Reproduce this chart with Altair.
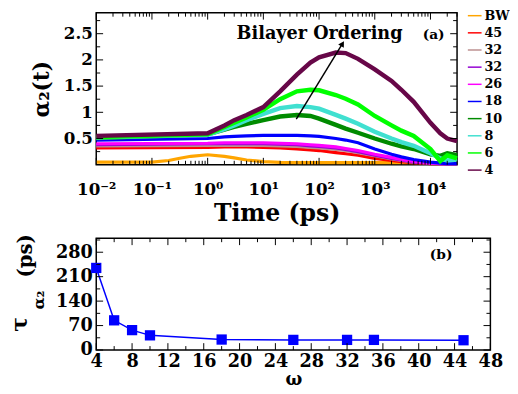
import altair as alt
import pandas as pd

FONT = "DejaVu Serif"

# ---------------- panel (a) data ----------------
series_order = ["BW", "45", "35", "32", "26", "18", "10", "8", "6", "4"]
series_colors = ["#FFA500", "#FF0000", "#BC8F8F", "#9400D3", "#FF00FF",
                 "#0000FF", "#008B00", "#40E0D0", "#00FF00", "#670748"]
thick_series = ["10", "8", "6", "4"]

T = [0.01, 1, 2, 3, 5, 10, 20, 40, 70, 100, 200, 300, 500, 1000, 2000, 3000,
     5000, 10000, 15000, 20000, 30000]
s45 = [0.32, 0.33, 0.34, 0.34, 0.34, 0.33, 0.32, 0.30, 0.28, 0.27, 0.23, 0.21,
       0.18, 0.12, 0.08, 0.06, 0.04, 0.02, 0.02, 0.02, 0.02]
s35 = [0.36, 0.37, 0.37, 0.37, 0.37, 0.37, 0.36, 0.35, 0.33, 0.32, 0.29, 0.27,
       0.23, 0.17, 0.11, 0.08, 0.05, 0.03, 0.02, 0.02, 0.02]
s32 = [0.38, 0.40, 0.40, 0.40, 0.40, 0.40, 0.39, 0.38, 0.36, 0.35, 0.32, 0.29,
       0.25, 0.18, 0.12, 0.09, 0.05, 0.03, 0.02, 0.02, 0.02]
s26 = [0.40, 0.41, 0.42, 0.42, 0.42, 0.42, 0.41, 0.40, 0.38, 0.37, 0.34, 0.31,
       0.27, 0.20, 0.14, 0.10, 0.06, 0.03, 0.02, 0.02, 0.02]
s18 = [0.47, 0.50, 0.53, 0.54, 0.55, 0.56, 0.56, 0.56, 0.55, 0.54, 0.50, 0.47,
       0.42, 0.30, 0.20, 0.15, 0.10, 0.05, 0.03, 0.02, 0.02]
s10 = [0.51, 0.58, 0.67, 0.72, 0.78, 0.85, 0.92, 0.95, 0.93, 0.88, 0.76, 0.69,
       0.61, 0.50, 0.40, 0.35, 0.30, 0.20, 0.17, 0.22, 0.18]
s8 = [0.52, 0.57, 0.68, 0.75, 0.85, 0.97, 1.08, 1.12, 1.10, 1.07, 0.95, 0.88,
      0.78, 0.63, 0.50, 0.43, 0.36, 0.22, 0.12, 0.08, 0.10]
s6 = [0.53, 0.58, 0.72, 0.80, 0.90, 1.05, 1.25, 1.40, 1.43, 1.42, 1.33, 1.26,
      1.15, 0.93, 0.75, 0.65, 0.55, 0.30, 0.07, 0.18, 0.12]
s4 = [0.55, 0.60, 0.75, 0.85, 0.95, 1.10, 1.40, 1.72, 1.95, 2.05, 2.14, 2.13,
      2.02, 1.82, 1.60, 1.43, 1.20, 0.80, 0.60, 0.50, 0.45]
bw_t = [0.01, 0.1, 0.2, 0.3, 0.5, 1, 2, 3, 5, 10, 20, 50, 100, 1000, 10000, 30000]
bw_v = [0.05, 0.05, 0.08, 0.12, 0.16, 0.19, 0.16, 0.13, 0.09, 0.06, 0.045, 0.04,
        0.04, 0.04, 0.04, 0.04]

# ---------------- panel (b) data ----------------
omega = [4, 6, 8, 10, 18, 26, 32, 35, 45]
tau = [235, 85, 57, 42, 30, 29, 29, 29, 28]

# axis tick values / labels
xa_major = [0.01, 0.1, 1, 10, 100, 1000, 10000]
xa_labels = ["10⁻²", "10⁻¹", "10⁰", "10¹", "10²", "10³", "10⁴"]
xa_minor = [k * 10.0 ** d for d in range(-2, 5) for k in range(2, 10) if k * 10.0 ** d <= 30000]
ya_major = [0.5, 1.0, 1.5, 2.0, 2.5]
ya_minor = [0.25, 0.75, 1.25, 1.75, 2.25, 2.75]
xb_major = [4, 8, 12, 16, 20, 24, 28, 32, 36, 40, 44, 48]
xb_minor = [6, 10, 14, 18, 22, 26, 30, 34, 38, 42, 46]
yb_major = [0, 70, 140, 210, 280]
yb_minor = [35, 105, 175, 245, 315]

rows = []
rows += [{"s": "BW", "t": t, "v": v} for t, v in zip(bw_t, bw_v)]
for name, vals in [("45", s45), ("35", s35), ("32", s32), ("26", s26), ("18", s18),
                   ("10", s10), ("8", s8), ("6", s6), ("4", s4)]:
    rows += [{"s": name, "t": t, "v": v} for t, v in zip(T, vals)]
df_a = pd.DataFrame(rows)
df_thin = df_a[~df_a["s"].isin(thick_series)]
df_thick = df_a[df_a["s"].isin(thick_series)]
df_b = pd.DataFrame({"w": omega, "tau": tau})

W1, H1 = 368, 155
W2, H2 = 402, 114

xs_a = alt.Scale(type="log", domain=[0.01, 30000])
ys_a = alt.Scale(domain=[0, 2.9])
xs_b = alt.Scale(domain=[4, 48])
ys_b = alt.Scale(domain=[0, 320])

label_expr = " : ".join(
    f"abs(datum.value - {v}) < {v}*0.01 ? '{lab}'" for v, lab in zip(xa_major, xa_labels)
) + " : ''"

ax_a_x = alt.Axis(title="Time (ps)", values=xa_major, labelExpr=label_expr,
                  labelFontSize=17, labelPadding=17, titleFontSize=24,
                  titlePadding=5, labelOverlap=False, labelFlush=False)
ax_a_y = alt.Axis(title="α₂(t)", values=ya_major, format="~g", labelOverlap=False,
                  labelFontSize=17, labelPadding=4, titleFontSize=22, titlePadding=10)
ax_b_x = alt.Axis(title="ω", values=xb_major, format="d", labelFontSize=18,
                  labelPadding=3, titleFontSize=18, titlePadding=0, labelOverlap=False,
                  labelFlush=False)
ax_b_y = alt.Axis(title=None, values=yb_major, format="d", labelFontSize=18,
                  labelPadding=4, labelOverlap=False)


def tick_layers(xf, yf, xvals_major, xvals_minor, yvals_major, yvals_minor,
                xs, ys, axx, axy, W, H):
    out = []
    for vals, L in [(xvals_major, 7), (xvals_minor, 4)]:
        d = pd.DataFrame({xf: vals})
        out.append(alt.Chart(d).mark_rule(color="black", strokeWidth=1).encode(
            x=alt.X(f"{xf}:Q", scale=xs, axis=axx), y=alt.value(H), y2=alt.value(H - L)))
        out.append(alt.Chart(d).mark_rule(color="black", strokeWidth=1).encode(
            x=alt.X(f"{xf}:Q", scale=xs, axis=axx), y=alt.value(0), y2=alt.value(L)))
    for vals, L in [(yvals_major, 7), (yvals_minor, 4)]:
        d = pd.DataFrame({yf: vals})
        out.append(alt.Chart(d).mark_rule(color="black", strokeWidth=1).encode(
            y=alt.Y(f"{yf}:Q", scale=ys, axis=axy), x=alt.value(0), x2=alt.value(L)))
        out.append(alt.Chart(d).mark_rule(color="black", strokeWidth=1).encode(
            y=alt.Y(f"{yf}:Q", scale=ys, axis=axy), x=alt.value(W), x2=alt.value(W - L)))
    return out


color_enc = alt.Color("s:N", scale=alt.Scale(domain=series_order, range=series_colors),
                      legend=alt.Legend(orient="none", legendX=378, legendY=-5, title=None,
                                        symbolType="stroke", symbolSize=196,
                                        symbolStrokeWidth=1.5, labelFont=FONT,
                                        labelFontWeight="bold", labelFontSize=13,
                                        labelColor="black", rowPadding=2.5, labelOffset=2,
                                        labelExpr="datum.label == '35' ? '32' : datum.label"))

lines_thin = alt.Chart(df_thin).mark_line(strokeWidth=3.2).encode(
    x=alt.X("t:Q", scale=xs_a, axis=ax_a_x),
    y=alt.Y("v:Q", scale=ys_a, axis=ax_a_y),
    color=color_enc,
)
lines_thick = alt.Chart(df_thick).mark_line(strokeWidth=4.5).encode(
    x=alt.X("t:Q", scale=xs_a, axis=ax_a_x),
    y=alt.Y("v:Q", scale=ys_a, axis=ax_a_y),
    color=color_enc,
)

arrow_df = pd.DataFrame({"t": [39], "v": [0.87], "t2": [263], "v2": [2.31]})
arrow = alt.Chart(arrow_df).mark_rule(color="black", strokeWidth=1.5).encode(
    x=alt.X("t:Q", scale=xs_a, axis=ax_a_x), y=alt.Y("v:Q", scale=ys_a, axis=ax_a_y),
    x2="t2:Q", y2="v2:Q")
head_df = pd.DataFrame({"t": [263], "v": [2.31]})
head = alt.Chart(head_df).mark_point(shape="triangle-up", filled=True, color="black",
                                     size=45, angle=31, opacity=1).encode(
    x=alt.X("t:Q", scale=xs_a, axis=ax_a_x), y=alt.Y("v:Q", scale=ys_a, axis=ax_a_y))

ann_a = pd.DataFrame({"t": [102, 11400], "v": [2.5, 2.47],
                      "txt": ["Bilayer Ordering", "(a)"]})
txt_bilayer = alt.Chart(ann_a.iloc[[0]]).mark_text(font=FONT, fontWeight="bold", fontSize=18,
                                                  color="black").encode(
    x=alt.X("t:Q", scale=xs_a, axis=ax_a_x), y=alt.Y("v:Q", scale=ys_a, axis=ax_a_y),
    text="txt:N")
txt_a = alt.Chart(ann_a.iloc[[1]]).mark_text(font=FONT, fontWeight="bold", fontSize=14,
                                            color="black").encode(
    x=alt.X("t:Q", scale=xs_a, axis=ax_a_x), y=alt.Y("v:Q", scale=ys_a, axis=ax_a_y),
    text="txt:N")

top = alt.layer(lines_thin, lines_thick, arrow, head, txt_bilayer, txt_a,
                *tick_layers("t", "v", xa_major, xa_minor, ya_major, ya_minor,
                             xs_a, ys_a, ax_a_x, ax_a_y, W1, H1)
                ).properties(width=W1, height=H1)

# ---------------- panel (b) ----------------
line_b = alt.Chart(df_b).mark_line(color="#0000FF", strokeWidth=1.5).encode(
    x=alt.X("w:Q", scale=xs_b, axis=ax_b_x),
    y=alt.Y("tau:Q", scale=ys_b, axis=ax_b_y),
)
pts_b = alt.Chart(df_b).mark_square(color="#0000FF", size=110, opacity=1).encode(
    x=alt.X("w:Q", scale=xs_b, axis=ax_b_x), y=alt.Y("tau:Q", scale=ys_b, axis=ax_b_y))

ann_b = pd.DataFrame({"w": [42.5], "tau": [272], "txt": ["(b)"]})
txt_b = alt.Chart(ann_b).mark_text(font=FONT, fontWeight="bold", fontSize=14,
                                   color="black").encode(
    x=alt.X("w:Q", scale=xs_b, axis=ax_b_x), y=alt.Y("tau:Q", scale=ys_b, axis=ax_b_y),
    text="txt:N")

one = pd.DataFrame({"a": [0]})
ytitle_tau = alt.Chart(one).mark_text(text="τ", font=FONT, fontWeight="bold", fontSize=22,
                                      angle=270, color="black").encode(
    x=alt.value(-78), y=alt.value(88))
ytitle_alpha = alt.Chart(one).mark_text(text="α₂", font=FONT, fontWeight="bold", fontSize=16,
                                        angle=270, color="black").encode(
    x=alt.value(-58), y=alt.value(63))
ytitle_ps = alt.Chart(one).mark_text(text="(ps)", font=FONT, fontWeight="bold", fontSize=20,
                                     angle=270, color="black").encode(
    x=alt.value(-72), y=alt.value(18))

bottom = alt.layer(line_b, pts_b, txt_b, ytitle_tau, ytitle_alpha, ytitle_ps,
                   *tick_layers("w", "tau", xb_major, xb_minor, yb_major, yb_minor,
                                xs_b, ys_b, ax_b_x, ax_b_y, W2, H2)
                   ).properties(width=W2, height=H2)

chart = alt.vconcat(top, bottom, spacing=7).properties(
    padding={"left": 0, "top": -4, "right": 0, "bottom": 0}
).configure_axis(
    labelFont=FONT, labelFontWeight="bold", labelColor="black",
    titleFont=FONT, titleFontWeight="bold", titleColor="black",
    ticks=False, domain=False, grid=False
).configure_view(stroke="black", strokeWidth=1.5)

chart.save("out.html", embed_options={"renderer": "svg", "actions": False})
